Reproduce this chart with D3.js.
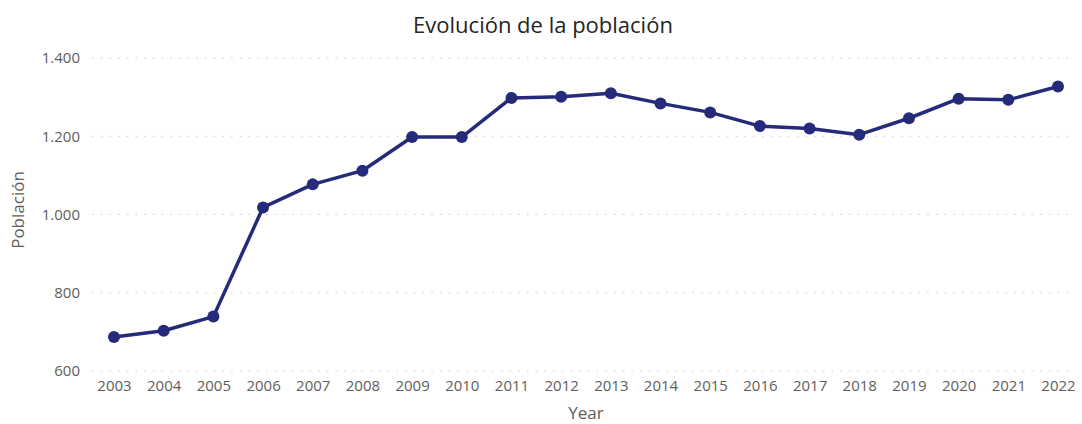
<!DOCTYPE html>
<html>
<head>
<meta charset="utf-8">
<script src="https://cdn.jsdelivr.net/npm/d3@7"></script>
<style>
  html, body { margin: 0; padding: 0; background: #fff; }
  svg { display: block; font-family: "Open Sans", "Noto Sans", sans-serif; }
</style>
</head>
<body>
<svg id="chart" width="1082" height="424"></svg>
<script>
// Population by year
const years = [2003, 2004, 2005, 2006, 2007, 2008, 2009, 2010, 2011, 2012,
               2013, 2014, 2015, 2016, 2017, 2018, 2019, 2020, 2021, 2022];
const population = [687, 703, 739, 1018, 1077, 1112, 1198, 1198, 1298, 1301,
                    1310, 1284, 1261, 1226, 1220, 1204, 1246, 1296, 1293, 1327];
const yTicks = [600, 800, 1000, 1200, 1400];

const svg = d3.select("#chart");
const margin = { left: 92, right: 12, top: 58, bottom: 53 };
const W = 1082, H = 424;

const x = d3.scalePoint()
  .domain(years)
  .range([114, 1058]);

const y = d3.scaleLinear()
  .domain([600, 1400])
  .range([H - margin.bottom, margin.top]);

const fmt = v => d3.format(",")(v).replace(/,/g, ".");

// Horizontal dotted gridlines
svg.append("g")
  .selectAll("line")
  .data(yTicks)
  .join("line")
  .attr("x1", margin.left)
  .attr("x2", W - margin.right)
  .attr("y1", d => y(d))
  .attr("y2", d => y(d))
  .attr("stroke", "#c8c8c8")
  .attr("stroke-width", 1)
  .attr("stroke-dasharray", "1.5,7.2");

// Y axis labels
const yAxis = d3.axisLeft(y).tickValues(yTicks).tickFormat(fmt).tickSize(0).tickPadding(0);
const gy = svg.append("g")
  .attr("transform", `translate(80,0)`)
  .call(yAxis);
gy.select(".domain").remove();
gy.selectAll("text")
  .attr("fill", "#605e5c")
  .style("font-size", "15px")
  .style("font-family", "'Open Sans', sans-serif");

// X axis labels
const xAxis = d3.axisBottom(x).tickSize(0).tickPadding(0);
const gx = svg.append("g")
  .attr("transform", `translate(0,380)`)
  .call(xAxis);
gx.select(".domain").remove();
gx.selectAll("text")
  .attr("fill", "#605e5c")
  .style("font-size", "15px")
  .style("font-family", "'Open Sans', sans-serif");

// Axis titles
svg.append("text")
  .attr("x", 586)
  .attr("y", 419)
  .attr("text-anchor", "middle")
  .attr("fill", "#605e5c")
  .style("font-size", "17px")
  .text("Year");

svg.append("text")
  .attr("transform", "translate(24,210) rotate(-90)")
  .attr("text-anchor", "middle")
  .attr("fill", "#605e5c")
  .style("font-size", "17px")
  .text("Población");

// Chart title
svg.append("text")
  .attr("x", 543)
  .attr("y", 33)
  .attr("text-anchor", "middle")
  .attr("fill", "#252423")
  .style("font-size", "22px")
  .text("Evolución de la población");

// Line
const line = d3.line()
  .x((d, i) => x(years[i]))
  .y(d => y(d));

svg.append("path")
  .datum(population)
  .attr("fill", "none")
  .attr("stroke", "#252a7a")
  .attr("stroke-width", 3.5)
  .attr("stroke-linejoin", "round")
  .attr("d", line);

// Markers
svg.append("g")
  .selectAll("circle")
  .data(population)
  .join("circle")
  .attr("cx", (d, i) => x(years[i]))
  .attr("cy", d => y(d))
  .attr("r", 6)
  .attr("fill", "#252a7a");
</script>
</body>
</html>
